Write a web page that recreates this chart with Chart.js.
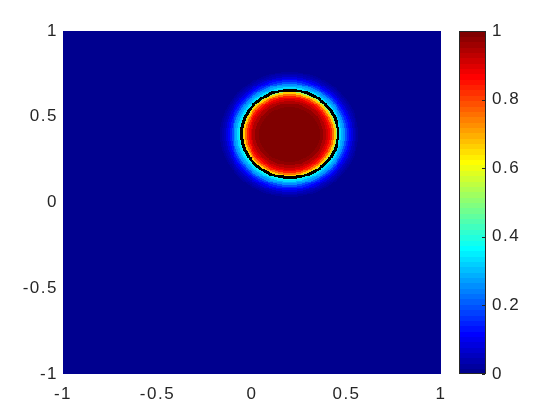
<!DOCTYPE html>
<html>
<head>
<meta charset="utf-8">
<script src="https://cdn.jsdelivr.net/npm/chart.js@4.4.1/dist/chart.umd.min.js"></script>
<style>
  html, body { margin: 0; background: #fff; }
  #wrap { width: 560px; height: 420px; }
</style>
</head>
<body>
<div id="wrap"><canvas id="c"></canvas></div>
<script>
// tick labels
const xTicks = [-1, -0.5, 0, 0.5, 1];
const yTicks = [-1, -0.5, 0, 0.5, 1];
const cbTicks = [0, 0.2, 0.4, 0.6, 0.8, 1];

// the field: a round blob
const gridN = 400;              // cells per side over [-1,1]
const blobCenter = [0.2, 0.4];
const blobRadius = 0.25;        // where the field crosses the contour level
const contourLevel = 0.5;
// radial profile across the edge: distance from the contour -> value
const profileOffset = [-0.14, -0.10, -0.08, -0.06, -0.05, -0.04, -0.03, -0.02, -0.01,
                       0, 0.01, 0.02, 0.03, 0.04, 0.05, 0.06, 0.07, 0.08, 0.09, 0.10, 0.11, 0.12, 0.14];
const profileValue  = [1, 0.99, 0.975, 0.95, 0.92, 0.88, 0.83, 0.76, 0.66,
                       0.5, 0.38, 0.33, 0.29, 0.25, 0.20, 0.15, 0.11, 0.08, 0.055, 0.035, 0.02, 0.01, 0];

const TEXT = '#262626';
const FONT = { family: 'Helvetica, Arial, "Liberation Sans", sans-serif', size: 17 };

// MATLAB jet(64)
function jetColor(i) {
    const u = k => (k < 1 || k > 47) ? 0 : k <= 16 ? k / 16 : k <= 31 ? 1 : (48 - k) / 16;
    const n = i + 1;
    return `rgb(${Math.round(u(n - 24) * 255)},${Math.round(u(n - 8) * 255)},${Math.round(u(n + 8) * 255)})`;
}
const palette = [];
for (let i = 0; i < 64; i++) palette.push(jetColor(i));
const colorIndex = v => Math.max(0, Math.min(63, Math.floor(v * 64)));

function profileAt(d) {
    let best = 0;
    for (let k = 1; k < profileOffset.length; k++) {
        if (Math.abs(profileOffset[k] - d) < Math.abs(profileOffset[best] - d)) best = k;
    }
    return profileValue[best];
}

// build the cell values
const step = 2 / gridN;
const field = [];
for (let j = 0; j < gridN; j++) {
    const row = [];
    const yc = -1 + (j + 0.5) * step;
    for (let i = 0; i < gridN; i++) {
        const xc = -1 + (i + 0.5) * step;
        const r = Math.hypot(xc - blobCenter[0], yc - blobCenter[1]);
        row.push(profileAt(r - blobRadius));
    }
    field.push(row);
}

const fieldPlugin = {
    id: 'field',
    beforeDraw(chart) {
        // MATLAB's tick text is spaced a bit wider than Arial
        chart.ctx.letterSpacing = '1.5px';
    },
    beforeDatasetsDraw(chart) {
        const { ctx, scales: { x, y } } = chart;
        ctx.save();
        const cell = (i, j) => {
            const x0 = Math.floor(x.getPixelForValue(-1 + i * step));
            const x1 = Math.ceil(x.getPixelForValue(-1 + (i + 1) * step));
            const y0 = Math.floor(y.getPixelForValue(-1 + (j + 1) * step));
            const y1 = Math.ceil(y.getPixelForValue(-1 + j * step));
            ctx.fillRect(x0, y0, x1 - x0, y1 - y0);
        };
        for (let j = 0; j < gridN; j++) {
            for (let i = 0; i < gridN; i++) {
                ctx.fillStyle = palette[colorIndex(field[j][i])];
                cell(i, j);
            }
        }
        // contour line at contourLevel: cells on either side of the crossing
        ctx.fillStyle = '#000';
        const inside = (i, j) => field[Math.max(0, Math.min(gridN - 1, j))][Math.max(0, Math.min(gridN - 1, i))] >= contourLevel;
        for (let j = 0; j < gridN; j++) {
            for (let i = 0; i < gridN; i++) {
                const s = inside(i, j);
                if (inside(i - 1, j) !== s || inside(i + 1, j) !== s || inside(i, j - 1) !== s || inside(i, j + 1) !== s) cell(i, j);
            }
        }
        ctx.restore();
    },
    afterDraw(chart) {
        const { ctx, chartArea, scales: { cb } } = chart;
        const left = chartArea.right + 18, w = 27;
        ctx.save();
        for (let k = 0; k < 64; k++) {
            const yTop = cb.getPixelForValue((k + 1) / 64), yBot = cb.getPixelForValue(k / 64);
            ctx.fillStyle = palette[k];
            ctx.fillRect(left, Math.floor(yTop), w, Math.ceil(yBot) - Math.floor(yTop));
        }
        ctx.strokeStyle = TEXT;
        ctx.lineWidth = 1;
        const top = cb.getPixelForValue(1), bot = cb.getPixelForValue(0);
        ctx.strokeRect(left + 0.5, Math.round(top) + 0.5, w - 1, Math.round(bot - top) - 1);
        cbTicks.forEach(v => {
            const py = Math.round(cb.getPixelForValue(v)) + 0.5;
            ctx.beginPath();
            ctx.moveTo(left + w - 1, py);
            ctx.lineTo(left + w - 4, py);
            ctx.stroke();
        });
        ctx.restore();
    }
};

const fixedTicks = list => scale => { scale.ticks = list.map(v => ({ value: v })); };

new Chart(document.getElementById('c'), {
    type: 'scatter',
    data: { datasets: [{ data: [] }] },
    options: {
        responsive: true,
        maintainAspectRatio: false,
        animation: false,
        layout: { padding: { top: 31, left: 0, right: 0, bottom: 0 } },
        plugins: { legend: { display: false }, tooltip: { enabled: false } },
        scales: {
            x: {
                type: 'linear', position: 'bottom', min: -1, max: 1,
                afterBuildTicks: fixedTicks(xTicks),
                afterFit: s => { s.height = 46; },
                grid: { display: false, drawTicks: false },
                border: { display: false },
                ticks: { color: TEXT, font: FONT, padding: 10, maxRotation: 0, callback: v => String(v) }
            },
            y: {
                type: 'linear', position: 'left', min: -1, max: 1,
                afterBuildTicks: fixedTicks(yTicks),
                afterFit: s => { s.width = 63; s.paddingTop = 0; s.paddingBottom = 0; },
                grid: { display: false, drawTicks: false },
                border: { display: false },
                ticks: { color: TEXT, font: FONT, padding: 5, callback: v => String(v) }
            },
            cb: {
                type: 'linear', position: 'right', min: 0, max: 1,
                afterBuildTicks: fixedTicks(cbTicks),
                afterFit: s => { s.width = 119; s.paddingTop = 0; s.paddingBottom = 0; },
                grid: { display: false, drawTicks: false },
                border: { display: false },
                ticks: { color: TEXT, font: FONT, padding: 51, callback: v => String(v) }
            }
        }
    },
    plugins: [fieldPlugin]
});
</script>
</body>
</html>
